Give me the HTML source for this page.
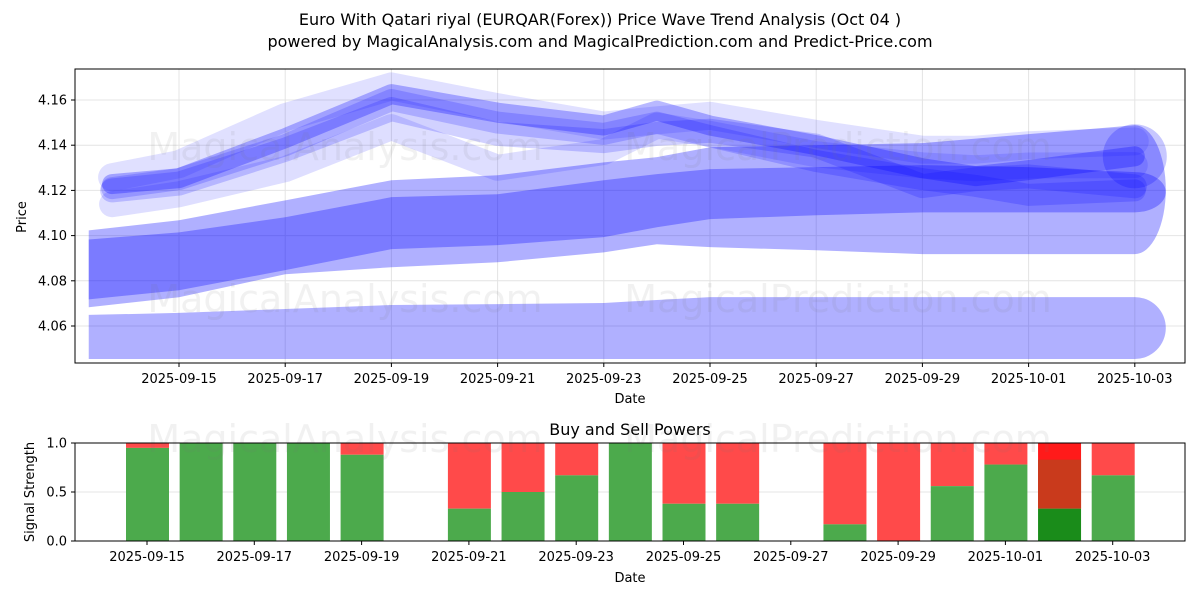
<!DOCTYPE html>
<html><head><meta charset="utf-8"><style>
body{margin:0;background:#fff;}
svg text{font-family:"DejaVu Sans","Liberation Sans",sans-serif;fill:#000;}
</style></head><body>
<svg id="c" width="1200" height="600" xmlns="http://www.w3.org/2000/svg"></svg>
<script>
// ---- data (top chart) ----
const bandDays = [-1.7, 0, 2, 4, 6, 8, 9, 10, 12, 14, 16, 18]; // days from 2025-09-15
const bandBottomUpper = [4.0649,4.0658,4.0675,4.0693,4.0697,4.0702,4.0715,4.0728,4.0728,4.0728,4.0728,4.0728];
const bandBottomLower = [4.0454,4.0454,4.0454,4.0454,4.0454,4.0454,4.0454,4.0454,4.0454,4.0454,4.0454,4.0454];
const bandAUpper = [4.1023,4.1068,4.1156,4.1245,4.1267,4.1324,4.1347,4.1391,4.1400,4.1409,4.1449,4.1488];
const bandALower = [4.0683,4.0727,4.0829,4.0860,4.0882,4.0926,4.0962,4.0949,4.0935,4.0918,4.0918,4.0918];
const bandBUpper = [4.0983,4.1014,4.1081,4.1170,4.1183,4.1245,4.1272,4.1294,4.1303,4.1312,4.1303,4.1281];
const bandBLower = [4.0718,4.0758,4.0847,4.0940,4.0958,4.0993,4.1037,4.1073,4.1090,4.1103,4.1103,4.1103];
const waveDays = [-1.26, 0, 2, 4, 6, 8, 9, 10, 12, 14, 15, 16, 18];
const wave1 = [4.1228,4.1254,4.1431,4.1626,4.1544,4.1487,4.1553,4.1487,4.1400,4.1298,4.1263,4.1290,4.1351];
const wave2 = [4.1139,4.1183,4.1294,4.1480,4.1300,4.1370,4.1487,4.1450,4.1360,4.1311,4.1298,4.1310,4.1312];
const wave3 = [4.1258,4.1316,4.1524,4.1660,4.1568,4.1487,4.1510,4.1530,4.1450,4.1380,4.1380,4.1400,4.1417];
const wave4 = [4.1200,4.1230,4.1380,4.1560,4.1450,4.1418,4.1450,4.1464,4.1398,4.1219,4.1250,4.1262,4.1218];
const wave5 = [4.1210,4.1250,4.1400,4.1600,4.1500,4.1450,4.1500,4.1440,4.1330,4.1250,4.1220,4.1180,4.1200];
const yTicks = [4.06, 4.08, 4.10, 4.12, 4.14, 4.16];
const xTickLabels = ["2025-09-15","2025-09-17","2025-09-19","2025-09-21","2025-09-23","2025-09-25","2025-09-27","2025-09-29","2025-10-01","2025-10-03"];
// ---- data (bottom chart) ----
const barDays = [0,1,2,3,4,6,7,8,9,10,11,13,14,15,16,17,18];
const buyPower = [0.95,1,1,1,0.88,0.33,0.5,0.67,1,0.38,0.38,0.17,0,0.56,0.78,0.33,0.67];
const sigTicks = [0, 0.5, 1.0];

const NS="http://www.w3.org/2000/svg";
const svg=document.getElementById('c');
function mk(t,a,p){const e=document.createElementNS(NS,t);for(const k in a)e.setAttribute(k,a[k]);(p||svg).appendChild(e);return e;}
const X1=d=>179+53.1*d, Y1=v=>326-(v-4.06)*2260;
const X2=d=>147+53.65*d, Y2=v=>541-v*98;
const T1={l:75,r:1185,t:69,b:363}, T2={l:75,r:1185,t:443,b:541};

let t=mk('text',{x:600,y:25,'text-anchor':'middle','font-size':16});t.textContent="Euro With Qatari riyal (EURQAR(Forex)) Price Wave Trend Analysis (Oct 04 )";

t=mk('text',{x:600,y:47,'text-anchor':'middle','font-size':16});t.textContent="powered by MagicalAnalysis.com and MagicalPrediction.com and Predict-Price.com";


const defs=mk('defs',{});
const cp=mk('clipPath',{id:'cp1'},defs);mk('rect',{x:T1.l,y:T1.t,width:T1.r-T1.l,height:T1.b-T1.t},cp);

const g1=mk('g',{});

yTicks.forEach(v=>{mk('line',{x1:T1.l,x2:T1.r,y1:Y1(v),y2:Y1(v),stroke:'#e4e4e4','stroke-width':1},g1);});
xTickLabels.forEach((s,i)=>{const x=X1(i*2);mk('line',{x1:x,x2:x,y1:T1.t,y2:T1.b,stroke:'#e4e4e4','stroke-width':1},g1);});

function wm(x,y,s){const e=mk('text',{x:x,y:y,'font-size':38,'text-anchor':'middle',style:'fill:rgba(120,120,120,0.1)'});e.textContent=s;}

const plot=mk('g',{'clip-path':'url(#cp1)'});

function band(up,lo,name,fill){
  let pts=bandDays.map((d,i)=>X1(d)+','+Y1(up[i]));
  for(let i=bandDays.length-1;i>=0;i--)pts.push(X1(bandDays[i])+','+Y1(lo[i]));
  const g=mk('g',{},plot);
  mk('polygon',{points:pts.join(' '),fill:fill},g);
  const n=bandDays.length-1,ry=(Y1(lo[n])-Y1(up[n]))/2;
  mk('path',{d:`M${X1(bandDays[n])},${Y1(up[n])} A31,${ry} 0 0 1 ${X1(bandDays[n])},${Y1(lo[n])} Z`,fill:fill},g);
}
band(bandBottomUpper,bandBottomLower,'wave-band-low','rgba(0,0,255,0.31)');
band(bandAUpper,bandALower,'wave-band-mid-outer','rgba(0,0,255,0.31)');
band(bandBUpper,bandBLower,'wave-band-mid-inner','rgba(0,0,255,0.3)');
function wave(vals,name,w,op){
  const p=mk('polyline',{points:waveDays.map((d,i)=>X1(d)+','+Y1(vals[i])).join(' '),fill:'none',stroke:'rgb(0,0,255)','stroke-opacity':op,'stroke-width':w,'stroke-linecap':'round','stroke-linejoin':'round'},plot);
  
}
wave(wave2,'wave-line-2',26,0.13);
wave(wave3,'wave-line-3',28,0.12);
wave(wave4,'wave-line-4',24,0.18);
wave(wave5,'wave-line-5',22,0.18);
wave(wave1,'wave-line-1',20,0.28);
const endc=mk('circle',{cx:X1(18),cy:Y1(wave1[12]),r:32,fill:'rgba(0,0,255,0.22)'},plot);

wm(345,160,'MagicalAnalysis.com');wm(838,160,'MagicalPrediction.com');
wm(345,312,'MagicalAnalysis.com');wm(838,312,'MagicalPrediction.com');

let f=mk('rect',{x:T1.l,y:T1.t,width:T1.r-T1.l,height:T1.b-T1.t,fill:'none',stroke:'#000','stroke-width':1});

yTicks.forEach(v=>{const y=Y1(v);mk('line',{x1:T1.l-4,x2:T1.l,y1:y,y2:y,stroke:'#000'});
  const e=mk('text',{x:T1.l-8,y:y+4.5,'text-anchor':'end','font-size':13});e.textContent=v.toFixed(2);
  });
xTickLabels.forEach((s,i)=>{const x=X1(i*2);mk('line',{x1:x,x2:x,y1:T1.b,y2:T1.b+4,stroke:'#000'});
  const e=mk('text',{x:x,y:T1.b+20,'text-anchor':'middle','font-size':13});e.textContent=s;
  });
t=mk('text',{x:630,y:403,'text-anchor':'middle','font-size':13});t.textContent='Date';

t=mk('text',{x:0,y:0,'text-anchor':'middle','font-size':13,transform:'translate(26,217) rotate(-90)'});t.textContent='Price';


t=mk('text',{x:630,y:435,'text-anchor':'middle','font-size':16});t.textContent='Buy and Sell Powers';

sigTicks.forEach(v=>{mk('line',{x1:T2.l,x2:T2.r,y1:Y2(v),y2:Y2(v),stroke:'#e4e4e4'});});
const bars=mk('g',{});
barDays.forEach((d,i)=>{
  const x=X2(d)-21,w=43,b=buyPower[i];
  const special=(d===17);
  const r=mk('rect',{x:x,y:Y2(1),width:w,height:Y2(b)-Y2(1),fill:special?'#ff1a1a':'#ff4a4a'},bars);
  
  if(special){const r2=mk('rect',{x:x,y:Y2(0.83),width:w,height:Y2(b)-Y2(0.83),fill:'#c93a1c'},bars);
    }
  const g=mk('rect',{x:x,y:Y2(b),width:w,height:Y2(0)-Y2(b),fill:special?'#1a8c1a':'#4caa4c'},bars);
  
});
wm(345,452,'MagicalAnalysis.com');wm(838,452,'MagicalPrediction.com');
f=mk('rect',{x:T2.l,y:T2.t,width:T2.r-T2.l,height:T2.b-T2.t,fill:'none',stroke:'#000','stroke-width':1});

sigTicks.forEach(v=>{const y=Y2(v);mk('line',{x1:T2.l-4,x2:T2.l,y1:y,y2:y,stroke:'#000'});
  const e=mk('text',{x:T2.l-8,y:y+4.5,'text-anchor':'end','font-size':13});e.textContent=v.toFixed(1);
  });
xTickLabels.forEach((s,i)=>{const x=X2(i*2);mk('line',{x1:x,x2:x,y1:T2.b,y2:T2.b+4,stroke:'#000'});
  const e=mk('text',{x:x,y:T2.b+20,'text-anchor':'middle','font-size':13});e.textContent=s;
  });
t=mk('text',{x:630,y:582,'text-anchor':'middle','font-size':13});t.textContent='Date';

t=mk('text',{x:0,y:0,'text-anchor':'middle','font-size':13,transform:'translate(34,492) rotate(-90)'});t.textContent='Signal Strength';

</script>
</body></html>
